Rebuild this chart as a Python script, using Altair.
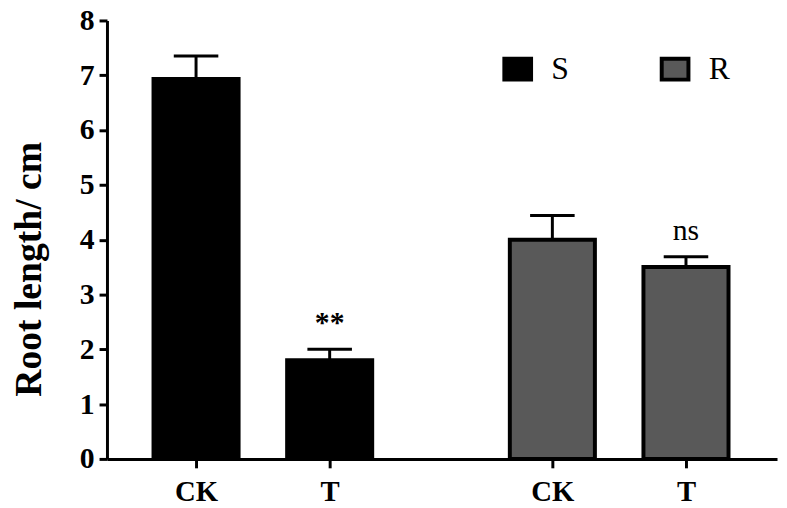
import altair as alt
import pandas as pd

groups = ["S", "S", "R", "R"]
treatments = ["CK", "T", "CK", "T"]
means = [6.93, 1.80, 4.00, 3.50]
errors = [0.42, 0.20, 0.44, 0.19]
sig = ["", "**", "", "ns"]
y_ticks = [0, 1, 2, 3, 4, 5, 6, 7, 8]

df = pd.DataFrame({"group": groups, "treatment": treatments, "mean": means,
                   "err": errors, "sig": sig})

SERIF = "Liberation Serif"

base = alt.Chart(df).transform_calculate(
    pos="2 + (datum.group == 'S' ? 0 : 8) + (datum.treatment == 'CK' ? 0 : 3)"
).transform_calculate(
    left="datum.pos - 0.955", right="datum.pos + 0.955",
    capl="datum.pos - 0.5", capr="datum.pos + 0.5",
    top="datum.mean + datum.err"
)

xscale = alt.Scale(domain=[0, 15.044], nice=False, zero=False)
yscale = alt.Scale(domain=[0, 8], nice=False)

xaxis = alt.Axis(values=[2, 5, 10, 13],
                 labelExpr="(datum.value == 2 || datum.value == 10) ? 'CK' : 'T'",
                 title=None, grid=False, domainWidth=3, domainColor="black",
                 tickWidth=3, tickSize=9, tickColor="black",
                 labelFont=SERIF, labelFontWeight="bold", labelFontSize=29,
                 labelColor="black", labelPadding=10)
yaxis = alt.Axis(values=y_ticks, format="d", title="Root length/ cm", grid=False,
                 domainWidth=3, domainColor="black", tickWidth=3, tickSize=8,
                 tickColor="black", labelFont=SERIF, labelFontWeight="bold",
                 labelFontSize=30, labelColor="black", labelPadding=5,
                 titleFont=SERIF, titleFontWeight="bold", titleFontSize=38,
                 titleColor="black", titlePadding=31, titleY=251)

bars = base.mark_bar(stroke="black", strokeWidth=4).encode(
    x=alt.X("left:Q", scale=xscale, axis=xaxis),
    x2="right:Q",
    y=alt.Y("mean:Q", scale=yscale, axis=yaxis),
    y2=alt.datum(0),
    fill=alt.Fill("group:N",
                  scale=alt.Scale(domain=["S", "R"], range=["black", "#595959"]),
                  legend=alt.Legend(title=None, orient="none", legendX=399,
                                    legendY=33, direction="horizontal",
                                    columns=2, columnPadding=85,
                                    symbolType="M-1,-0.78H1V0.78H-1Z",
                                    symbolSize=729, symbolStrokeColor="black",
                                    symbolStrokeWidth=4, labelOffset=18,
                                    labelFont=SERIF, labelFontSize=32,
                                    labelColor="black", padding=0)),
)

stems = base.mark_rule(color="black", strokeWidth=3).encode(
    x="pos:Q", y="mean:Q", y2="top:Q")
caps = base.mark_rule(color="black", strokeWidth=3).encode(
    x="capl:Q", x2="capr:Q", y="top:Q")

stars = base.transform_filter("datum.sig == '**'").mark_text(
    font=SERIF, fontSize=30, fontWeight="bold", baseline="alphabetic",
    dy=-17, color="black").encode(x="pos:Q", y="top:Q", text="sig:N")
ns = base.transform_filter("datum.sig == 'ns'").mark_text(
    font=SERIF, fontSize=30, baseline="alphabetic", dy=-17,
    color="black").encode(x="pos:Q", y="top:Q", text="sig:N")

chart = alt.layer(bars, stems, caps, stars, ns).properties(
    width=677, height=443,
    autosize=alt.AutoSizeParams(type="none"),
    padding={"left": 100, "top": 10, "right": 2, "bottom": 46},
).configure(font=SERIF).configure_view(stroke=None)

chart.save("out.html", embed_options={"renderer": "svg", "actions": False})
